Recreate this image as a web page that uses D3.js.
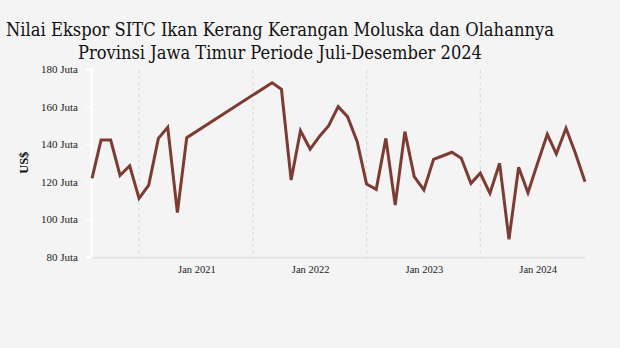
<!DOCTYPE html>
<html><head><meta charset="utf-8">
<script src="https://cdn.jsdelivr.net/npm/d3@7"></script>
<style>html,body{margin:0;padding:0;background:#f4f4f4;}svg{display:block;}</style>
</head><body><svg id="c" width="620" height="348"></svg>
<script>
const months = ["2020-02","2020-03","2020-04","2020-05","2020-06","2020-07","2020-08","2020-09","2020-10","2020-11","2020-12",
"2021-09","2021-10","2021-11","2021-12",
"2022-01","2022-02","2022-03","2022-04","2022-05","2022-06","2022-07","2022-08","2022-09","2022-10","2022-11","2022-12",
"2023-01","2023-02","2023-03","2023-04","2023-05","2023-06","2023-07","2023-08","2023-09","2023-10","2023-11","2023-12",
"2024-01","2024-02","2024-03","2024-04","2024-05","2024-06"];
const values = [121.7,142.1,142.1,123.3,128.4,111.0,118.1,143.0,148.9,103.4,143.4,
172.7,169.2,120.8,147.1,
137.3,144.3,149.6,159.9,154.6,141.2,118.7,115.8,143.0,107.5,146.6,122.6,
115.5,131.8,133.6,135.6,132.4,119.0,124.4,113.7,129.7,89.2,127.6,114.0,
129.9,145.2,134.7,148.4,135.2,119.9];
const yTicks = [80,100,120,140,160,180];
const xLabelDates = ["2021-01","2022-01","2023-01","2024-01"];
const gridDates = ["2020-07","2021-07","2022-07","2023-07"];
const titleLines = ["Nilai Ekspor SITC Ikan Kerang Kerangan Moluska dan Olahannya","Provinsi Jawa Timur Periode Juli-Desember 2024"];
const yTitle = "US$";

const parse = d3.timeParse("%Y-%m");
const data = months.map((m,i)=>({date:parse(m), v:values[i]}));
const svg = d3.select("#c");
const L=92, R=585, T=69, B=256.5;
const x = d3.scaleTime().domain([data[0].date, data[data.length-1].date]).range([L,R]);
const y = d3.scaleLinear().domain([80,180]).range([B,T]);

svg.append("rect").attr("width",620).attr("height",348).attr("fill","#f4f4f4");

// title
svg.append("g").selectAll("text").data(titleLines).join("text")
  .attr("x",280).attr("y",(d,i)=>36+i*23).attr("text-anchor","middle")
  .attr("font-family","'DejaVu Serif', serif").attr("font-size",18).attr("fill","#111")
  .attr("textLength",(d,i)=>i===0?548:404).attr("lengthAdjust","spacingAndGlyphs")
  .text(d=>d);

// grid lines
svg.append("g").selectAll("line").data(gridDates.map(parse)).join("line")
  .attr("x1",d=>x(d)).attr("x2",d=>x(d)).attr("y1",70).attr("y2",262)
  .attr("stroke","#dcdcdc").attr("stroke-width",1.2).attr("stroke-dasharray","3,3");

// bottom axis line
svg.append("line").attr("x1",L-1).attr("x2",R).attr("y1",B+1.2).attr("y2",B+1.2)
  .attr("stroke","#e4e4e4").attr("stroke-width",2);

// x labels
const xa = svg.append("g").attr("transform",`translate(0,${B+1})`)
  .call(d3.axisBottom(x).tickValues(xLabelDates.map(parse)).tickFormat(d3.timeFormat("Jan %Y")).tickSize(0).tickPadding(8));
xa.select(".domain").remove();
xa.selectAll("text").attr("font-family","'Liberation Serif', serif").attr("font-size",10.5).attr("fill","#222");

// y axis
const ya = svg.append("g").attr("transform",`translate(${L-1},0)`)
  .call(d3.axisLeft(y).tickValues(yTicks).tickFormat(d=>d+" Juta").tickSize(5).tickPadding(8));
ya.select(".domain").attr("stroke","#fff").attr("stroke-width",2);
ya.selectAll(".tick line").attr("stroke","#fff").attr("stroke-width",1.5);
ya.selectAll("text").attr("font-family","'Liberation Serif', serif").attr("font-size",11).attr("fill","#222");

svg.append("text").attr("transform",`translate(28,${(T+B)/2}) rotate(-90)`)
  .attr("text-anchor","middle").attr("font-family","'Liberation Serif', serif")
  .attr("font-weight","bold").attr("font-size",12.5).attr("fill","#111").text(yTitle);

// line
svg.append("path").datum(data)
  .attr("d",d3.line().x(d=>x(d.date)).y(d=>y(d.v)))
  .attr("fill","none").attr("stroke","#7d3c33").attr("stroke-width",3).attr("stroke-linejoin","miter");
</script></body></html>
